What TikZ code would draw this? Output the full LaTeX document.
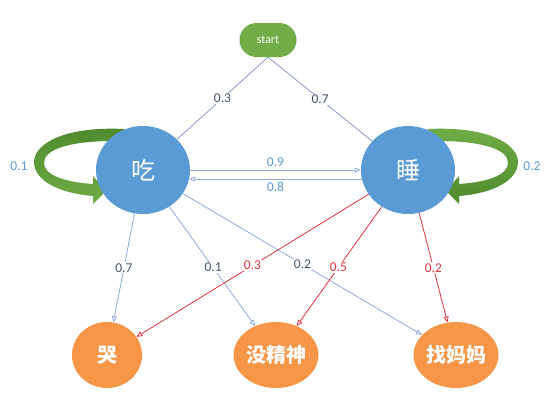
\documentclass[tikz,border=0pt]{standalone}
\usepackage{fontspec}
\setmainfont{Carlito}
\newfontfamily\cjk{Noto Sans CJK SC}
\usetikzlibrary{positioning,arrows.meta,shapes.geometric}
\definecolor{stateblue}{HTML}{5B9BD5}
\definecolor{obsorange}{HTML}{F79646}
\definecolor{startgreen}{HTML}{70AD47}
\definecolor{loopdark}{HTML}{4E8A2C}
\definecolor{edgeblue}{HTML}{8FAADC}
\definecolor{edgetop}{HTML}{8D96C8}
\definecolor{textslate}{HTML}{44546A}
\definecolor{edgered}{HTML}{E2323E}
\tikzset{
	hidden/.style={ellipse,fill=stateblue,text=white,minimum width=94pt,minimum height=88pt,inner sep=0pt,font=\cjk\fontsize{24}{24}\selectfont},
	emit/.style={ellipse,fill=obsorange,text=white,minimum width=70pt,minimum height=66pt,inner sep=0pt,font=\cjk\bfseries\fontsize{20}{20}\selectfont},
	prob/.style={fill=white,inner sep=1pt,font=\fontsize{13.5}{14}\selectfont},
	opentip/.style={-{Triangle[open,length=6pt,width=5pt]}}
}
\begin{document}
\begin{tikzpicture}[x=1pt,y=-1pt]
	\useasboundingbox[fill=white] (0,0) rectangle (554,405);

	\shade[top color=loopdark,bottom color=startgreen] (124,129) .. controls (62,126) and (33,145) .. (34,163) .. controls (35,180) and (57,193) .. (93,196) -- (93,204) -- (106,191) -- (93,176) -- (93,184) .. controls (62,182) and (44,174) .. (44,163) .. controls (44,150) and (67,140) .. (124,141) -- cycle;
	\shade[top color=startgreen,bottom color=loopdark] (428,129) .. controls (490,126) and (519,145) .. (518,163) .. controls (517,180) and (495,193) .. (459,196) -- (459,204) -- (446,191) -- (459,176) -- (459,184) .. controls (490,182) and (508,174) .. (508,163) .. controls (508,150) and (485,140) .. (428,141) -- cycle;

	\node[fill=startgreen,text=white,rounded corners=17pt,minimum width=57pt,minimum height=34pt,font=\fontsize{12}{12}\selectfont] (start) at (268,40) {start};
	\node[hidden] (chi) at (143,170) {吃};
	\node[hidden] (shui) at (408,170) {睡};
	\node[emit] (ku) at (107,355) {哭};
	\node[emit] (mjs) at (276,355) {没精神};
	\node[emit] (zmm) at (456,355) {找妈妈};

	\node[text=stateblue,font=\fontsize{13.5}{14}\selectfont] (selfchi) at (19,166) {0.1};
	\node[text=stateblue,font=\fontsize{13.5}{14}\selectfont] (selfshui) at (532,166) {0.2};

	\draw[edgetop,line width=0.8pt] (start.south) -- node[prob,text=textslate] {0.3} (chi);
	\draw[edgetop,line width=0.8pt] (start.south) -- node[prob,text=textslate] {0.7} (shui);

	\draw[edgeblue,line width=0.8pt,opentip] (chi.east) -- node[above=0pt,text=stateblue,font=\fontsize{13.5}{14}\selectfont] {0.9} (shui.west);
	\draw[edgeblue,line width=0.8pt,opentip] (shui.191) -- node[below=0pt,text=stateblue,font=\fontsize{13.5}{14}\selectfont] {0.8} (chi.-11);

	\draw[edgeblue,line width=0.8pt,opentip] (chi) -- node[prob,text=textslate] {0.7} (ku);
	\draw[edgeblue,line width=0.8pt,opentip] (chi) -- node[prob,text=textslate,pos=0.51] {0.1} (mjs);
	\draw[edgeblue,line width=0.8pt,opentip] (chi) -- node[prob,text=textslate] {0.2} (zmm);
	\draw[edgered,line width=0.8pt,opentip] (shui) -- node[prob,text=edgered] {0.3} (ku);
	\draw[edgered,line width=0.8pt,opentip] (shui) -- node[prob,text=edgered,pos=0.51] {0.5} (mjs);
	\draw[edgered,line width=0.8pt,opentip] (shui) -- node[prob,text=edgered] {0.2} (zmm);
\end{tikzpicture}
\end{document}
